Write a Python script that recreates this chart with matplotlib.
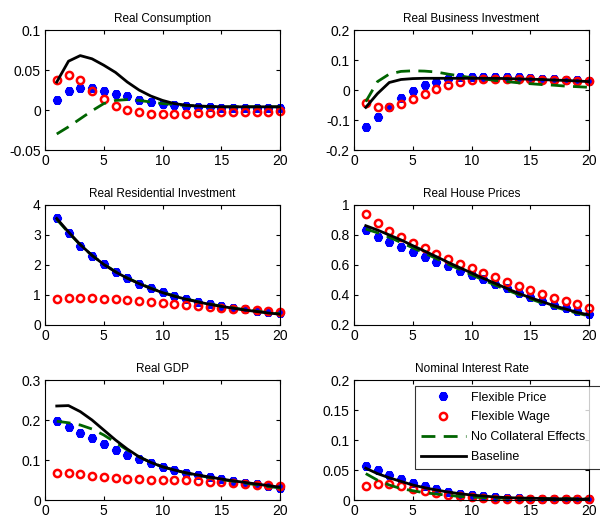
import matplotlib
matplotlib.use("Agg")
import matplotlib.pyplot as plt

plt.rcParams['font.family'] = ['Liberation Sans', 'DejaVu Sans']

periods = list(range(1, 21))

titles = ["Real Consumption", "Real Business Investment",
          "Real Residential Investment", "Real House Prices",
          "Real GDP", "Nominal Interest Rate"]
series_names = ["Flexible Price", "Flexible Wage", "No Collateral Effects", "Baseline"]

# Real Consumption
cons_flex_price = [0.012, 0.024, 0.028, 0.027, 0.024, 0.020, 0.017, 0.013, 0.010, 0.008,
                   0.006, 0.005, 0.004, 0.004, 0.003, 0.003, 0.003, 0.003, 0.003, 0.003]
cons_flex_wage = [0.037, 0.044, 0.037, 0.024, 0.014, 0.005, 0.000, -0.003, -0.005, -0.005,
                  -0.005, -0.0045, -0.004, -0.0035, -0.003, -0.003, -0.0025, -0.002, -0.002, -0.0015]
cons_no_coll = [-0.030, -0.021, -0.011, -0.001, 0.008, 0.012, 0.013, 0.012, 0.010, 0.008,
                0.007, 0.0055, 0.005, 0.004, 0.004, 0.004, 0.004, 0.004, 0.004, 0.004]
cons_baseline = [0.035, 0.061, 0.068, 0.064, 0.056, 0.047, 0.035, 0.025, 0.0175, 0.012,
                 0.008, 0.006, 0.005, 0.0045, 0.004, 0.004, 0.004, 0.004, 0.004, 0.004]

# Real Business Investment
binv_flex_price = [-0.124, -0.091, -0.058, -0.028, -0.002, 0.016, 0.028, 0.037, 0.042, 0.044,
                   0.045, 0.044, 0.043, 0.042, 0.040, 0.038, 0.036, 0.034, 0.032, 0.030]
binv_flex_wage = [-0.044, -0.058, -0.058, -0.048, -0.031, -0.014, 0.002, 0.017, 0.027, 0.033,
                  0.037, 0.038, 0.038, 0.037, 0.036, 0.035, 0.034, 0.032, 0.031, 0.029]
binv_no_coll = [-0.039, 0.028, 0.053, 0.062, 0.064, 0.063, 0.060, 0.053, 0.047, 0.041,
                0.037, 0.032, 0.028, 0.024, 0.021, 0.018, 0.016, 0.013, 0.011, 0.009]
binv_baseline = [-0.058, -0.012, 0.025, 0.035, 0.038, 0.039, 0.039, 0.039, 0.039, 0.039,
                 0.039, 0.039, 0.038, 0.037, 0.036, 0.035, 0.033, 0.032, 0.030, 0.028]

# Real Residential Investment
rinv_flex_price = [3.58, 3.06, 2.64, 2.30, 2.02, 1.78, 1.56, 1.37, 1.22, 1.09,
                   0.98, 0.87, 0.78, 0.70, 0.63, 0.58, 0.52, 0.47, 0.42, 0.39]
rinv_flex_wage = [0.87, 0.89, 0.90, 0.89, 0.88, 0.86, 0.83, 0.80, 0.77, 0.74,
                  0.71, 0.68, 0.64, 0.61, 0.58, 0.54, 0.52, 0.50, 0.48, 0.44]
rinv_no_coll = [3.52, 3.08, 2.67, 2.32, 2.03, 1.78, 1.57, 1.39, 1.23, 1.09,
                0.97, 0.87, 0.78, 0.70, 0.63, 0.57, 0.51, 0.46, 0.41, 0.37]
rinv_baseline = [3.55, 3.10, 2.68, 2.32, 2.02, 1.77, 1.56, 1.38, 1.22, 1.08,
                 0.96, 0.86, 0.77, 0.69, 0.62, 0.56, 0.50, 0.45, 0.40, 0.36]

# Real House Prices
hp_flex_price = [0.833, 0.789, 0.756, 0.718, 0.689, 0.656, 0.622, 0.593, 0.560, 0.533,
                 0.504, 0.473, 0.444, 0.411, 0.389, 0.362, 0.333, 0.316, 0.293, 0.271]
hp_flex_wage = [0.940, 0.878, 0.827, 0.784, 0.744, 0.711, 0.673, 0.640, 0.607, 0.578,
                0.544, 0.518, 0.489, 0.462, 0.433, 0.407, 0.382, 0.360, 0.338, 0.316]
hp_no_coll = [0.840, 0.815, 0.785, 0.750, 0.715, 0.680, 0.643, 0.606, 0.570, 0.535,
              0.500, 0.467, 0.434, 0.403, 0.374, 0.347, 0.322, 0.300, 0.279, 0.260]
hp_baseline = [0.862, 0.833, 0.800, 0.767, 0.729, 0.693, 0.656, 0.618, 0.582, 0.547,
               0.511, 0.478, 0.444, 0.411, 0.382, 0.356, 0.329, 0.307, 0.284, 0.267]

# Real GDP
gdp_flex_price = [0.198, 0.183, 0.167, 0.154, 0.139, 0.125, 0.1125, 0.102, 0.092, 0.0825,
                  0.075, 0.068, 0.0625, 0.057, 0.052, 0.047, 0.0425, 0.039, 0.035, 0.031]
gdp_flex_wage = [0.067, 0.068, 0.064, 0.060, 0.057, 0.054, 0.0525, 0.052, 0.051, 0.051,
                 0.050, 0.049, 0.0475, 0.046, 0.044, 0.0425, 0.040, 0.038, 0.037, 0.034]
gdp_no_coll = [0.197, 0.193, 0.1875, 0.1775, 0.1625, 0.144, 0.125, 0.108, 0.094, 0.083,
               0.075, 0.0675, 0.062, 0.056, 0.051, 0.047, 0.0425, 0.038, 0.034, 0.030]
gdp_baseline = [0.235, 0.236, 0.221, 0.200, 0.175, 0.150, 0.1275, 0.108, 0.094, 0.083,
                0.075, 0.068, 0.0625, 0.0575, 0.0525, 0.048, 0.044, 0.040, 0.036, 0.032]

# Nominal Interest Rate
ir_flex_price = [0.057, 0.050, 0.042, 0.035, 0.029, 0.023, 0.018, 0.014, 0.0105, 0.008,
                 0.006, 0.0045, 0.003, 0.0028, 0.002, 0.002, 0.002, 0.002, 0.002, 0.002]
ir_flex_wage = [0.023, 0.026, 0.026, 0.023, 0.019, 0.0155, 0.012, 0.009, 0.0067, 0.0045,
                0.0033, 0.002, 0.0015, 0.0015, 0.0015, 0.0015, 0.0015, 0.0015, 0.0015, 0.0015]
ir_no_coll = [0.044, 0.033, 0.025, 0.019, 0.0155, 0.012, 0.010, 0.0078, 0.006, 0.005,
              0.004, 0.0033, 0.003, 0.0028, 0.0025, 0.0022, 0.002, 0.002, 0.0018, 0.0015]
ir_baseline = [0.053, 0.044, 0.037, 0.031, 0.025, 0.0205, 0.0167, 0.0133, 0.0105, 0.0083,
               0.0067, 0.005, 0.004, 0.0033, 0.003, 0.0025, 0.002, 0.002, 0.0015, 0.0015]

panels = [
    (cons_flex_price, cons_flex_wage, cons_no_coll, cons_baseline),
    (binv_flex_price, binv_flex_wage, binv_no_coll, binv_baseline),
    (rinv_flex_price, rinv_flex_wage, rinv_no_coll, rinv_baseline),
    (hp_flex_price, hp_flex_wage, hp_no_coll, hp_baseline),
    (gdp_flex_price, gdp_flex_wage, gdp_no_coll, gdp_baseline),
    (ir_flex_price, ir_flex_wage, ir_no_coll, ir_baseline),
]
ylims = [(-0.05, 0.1), (-0.2, 0.2), (0, 4), (0.2, 1), (0, 0.3), (0, 0.2)]
yticks = [[-0.05, 0, 0.05, 0.1], [-0.2, -0.1, 0, 0.1, 0.2], [0, 1, 2, 3, 4],
          [0.2, 0.4, 0.6, 0.8, 1], [0, 0.1, 0.2, 0.3], [0, 0.05, 0.1, 0.15, 0.2]]
yticklabels = [["-0.05", "0", "0.05", "0.1"], ["-0.2", "-0.1", "0", "0.1", "0.2"],
               ["0", "1", "2", "3", "4"], ["0.2", "0.4", "0.6", "0.8", "1"],
               ["0", "0.1", "0.2", "0.3"], ["0", "0.05", "0.1", "0.15", "0.2"]]

fig = plt.figure(figsize=(6.0, 5.18), dpi=100)
lefts = [45 / 600, 354 / 600]
bottoms = [1 - 150 / 518, 1 - 325 / 518, 1 - 500 / 518]
w, h = 235 / 600, 120 / 518

handles = None
for i, (fp, fw, nc, bl) in enumerate(panels):
    ax = fig.add_axes([lefts[i % 2], bottoms[i // 2], w, h])
    h1, = ax.plot(periods, fp, linestyle='none', marker=(6, 2, 0), ms=6, mew=3,
                  color='#0000ff', label=series_names[0], clip_on=False)
    h2, = ax.plot(periods, fw, linestyle='none', marker='o', ms=5.2, mew=1.8,
                  mfc='none', mec='#ff0000', label=series_names[1], clip_on=False)
    h3, = ax.plot(periods, nc, '--', color='#006400', lw=2, dashes=(5, 3),
                  label=series_names[2])
    h4, = ax.plot(periods, bl, '-', color='black', lw=2, label=series_names[3])
    handles = [h1, h2, h3, h4]
    ax.set_xlim(0, 20)
    ax.set_xticks([0, 5, 10, 15, 20])
    ax.set_ylim(*ylims[i])
    ax.set_yticks(yticks[i])
    ax.set_yticklabels(yticklabels[i])
    ax.tick_params(direction='in', top=True, right=True, labelsize=10, length=3, pad=3)
    ax.set_title(titles[i], fontsize=8.5, pad=6)
    for s in ax.spines.values():
        s.set_linewidth(0.8)

leg = fig.legend(handles=handles, loc='upper left', mode='expand',
                 bbox_to_anchor=(415 / 600, 1 - 468 / 518, 192 / 600, 82 / 518), fontsize=9,
                 handlelength=3.6, frameon=True, fancybox=False, edgecolor='black',
                 borderpad=0.45, labelspacing=0.62, handletextpad=0.4, borderaxespad=0)
leg.get_frame().set_linewidth(0.8)

fig.savefig("out.png", dpi=100)
